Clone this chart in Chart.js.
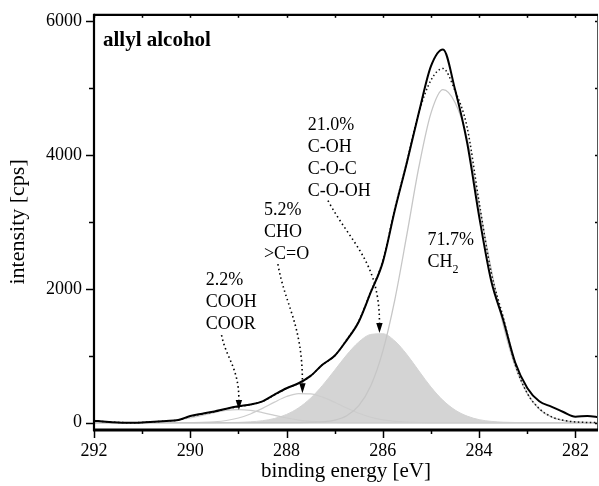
<!DOCTYPE html>
<html lang="en">
<head>
    <meta charset="UTF-8">
    <title>allyl alcohol C 1s</title>
    <style>
        body {
            margin: 0;
            background: #fff;
        }
        #chart {
            display: block;
        }
    </style>
</head>
<body>
    <canvas id="chart" width="599" height="486"></canvas>

    <script src="https://cdn.jsdelivr.net/npm/chart.js@4.4.0/dist/chart.umd.js"></script>
    <script>
        // binding energy grid (eV), every 0.25 eV
        const energy = [292, 291.75, 291.5, 291.25, 291, 290.75, 290.5, 290.25, 290, 289.75,
            289.5, 289.25, 289, 288.75, 288.5, 288.25, 288, 287.75, 287.5, 287.25,
            287, 286.75, 286.5, 286.25, 286, 285.75, 285.5, 285.25, 285, 284.75,
            284.5, 284.25, 284, 283.75, 283.5, 283.25, 283, 282.75, 282.5, 282.25,
            282, 281.75, 281.5];

        // measured spectrum (cps)
        const measured = [30, 15, 5, 0, 5, 15, 25, 40, 100, 135,
            168, 210, 245, 272, 320, 420, 515, 590, 700, 870,
            1000, 1235, 1510, 1950, 2400, 3180, 3890, 4640, 5330, 5580,
            4980, 4190, 3090, 2125, 1540, 900, 520, 320, 240, 160,
            90, 100, 80];

        // fit envelope (dotted)
        const envelope = [30, 15, 5, 0, 5, 15, 25, 40, 95, 130,
            165, 205, 240, 270, 318, 418, 512, 588, 700, 870,
            1000, 1240, 1520, 1960, 2420, 3200, 3900, 4640, 5120, 5295,
            4960, 4420, 3300, 2250, 1580, 870, 440, 210, 90, 35,
            12, 4, 1];

        // fitted components
        const peakCH2 = [0, 0, 0, 0, 0, 0, 0, 0, 0, 0,
            0, 0, 0, 0, 0, 0, 0, 1, 4, 12,
            38, 104, 255, 553, 1071, 1841, 2814, 3826, 4627, 4978,
            4786, 4250, 3252, 2299, 1465, 842, 438, 205, 87, 33,
            12, 4, 1];
        const peakCOH = [0, 0, 0, 0, 0, 0, 0, 0, 0, 0,
            0, 2, 5, 13, 30, 63, 124, 222, 367, 560,
            785, 1014, 1206, 1320, 1330, 1221, 1019, 773, 533, 334,
            190, 99, 46, 20, 8, 3, 1, 0, 0, 0,
            0, 0, 0];
        const peakCHO = [0, 0, 0, 0, 0, 0, 0, 0, 2, 5,
            14, 33, 70, 131, 214, 308, 391, 436, 431, 382,
            305, 219, 141, 82, 43, 20, 9, 3, 1, 0,
            0, 0, 0, 0, 0, 0, 0, 0, 0, 0,
            0, 0, 0];
        const peakCOOH = [0, 0, 0, 1, 3, 9, 20, 40, 70, 110,
            151, 183, 195, 183, 151, 110, 70, 40, 20, 9,
            3, 1, 0, 0, 0, 0, 0, 0, 0, 0,
            0, 0, 0, 0, 0, 0, 0, 0, 0, 0,
            0, 0, 0];
        const baseline = energy.map(() => 0);

        // tick labels and tick marks
        const energyLabels = [282, 284, 286, 288, 290, 292];
        const intensityLabels = [0, 2000, 4000, 6000];
        const energyTicks = [292, 291, 290, 289, 288, 287, 286, 285, 284, 283, 282];
        const intensityTicks = [0, 1000, 2000, 3000, 4000, 5000, 6000];

        // peak labels: text lines, label anchor, arrow start and arrow tip (eV, cps)
        const notes = [
            { lines: ['2.2%', 'COOH', 'COOR'], at: [289.68, 2130], from: [289.35, 1310], to: [288.99, 190], bend: 0.25 },
            { lines: ['5.2%', 'CHO', '>C=O'], at: [288.47, 3180], from: [288.18, 2370], to: [287.67, 440], bend: 0.3 },
            { lines: ['21.0%', 'C-OH', 'C-O-C', 'C-O-OH'], at: [287.56, 4450], from: [287.14, 3320], to: [286.07, 1340], bend: 0.45 },
            { lines: ['71.7%', 'CH'], sub: '2', at: [285.07, 2730] }
        ];

        const serif = 'Liberation Serif';

        function pts(values) {
            return energy.map((e, i) => ({ x: e, y: values[i] }));
        }

        function line(ctx, x1, y1, x2, y2) {
            ctx.beginPath();
            ctx.moveTo(x1, y1);
            ctx.lineTo(x2, y2);
            ctx.stroke();
        }

        // axis frame with in/out ticks like the original plot
        const frame = {
            id: 'frame',
            afterDatasetsDraw(chart) {
                const { ctx, chartArea: a, scales: { x, y } } = chart;
                ctx.save();
                ctx.strokeStyle = '#000';
                ctx.lineWidth = 1.5;
                energyTicks.forEach(e => {
                    const px = Math.round(x.getPixelForValue(e)) + 0.5;
                    const major = e % 2 === 0;
                    line(ctx, px, a.bottom, px, a.bottom + (major ? 9 : 5));
                    line(ctx, px, a.top, px, a.top + 3);
                });
                intensityTicks.forEach(v => {
                    const py = Math.round(y.getPixelForValue(v)) + 0.5;
                    const major = v % 2000 === 0;
                    line(ctx, a.left, py, a.left - (major ? 8 : 5), py);
                    line(ctx, a.right, py, a.right - 3, py);
                });

                ctx.strokeStyle = '#555';
                ctx.lineWidth = 1;
                line(ctx, a.right - 0.5, a.top, a.right - 0.5, a.bottom);
                ctx.strokeStyle = '#000';
                ctx.lineWidth = 2.2;
                line(ctx, a.left, a.top, a.right, a.top);
                line(ctx, a.left, a.top - 1, a.left, a.bottom + 2);
                ctx.lineWidth = 3;
                line(ctx, a.left - 1, a.bottom + 1, a.right, a.bottom + 1);
                ctx.restore();
            }
        };

        function drawArrow(ctx, sx, sy, tx, ty, bend) {
            const head = 10;
            const ey = ty - head;
            const dx = tx - sx, dy = ey - sy;
            ctx.setLineDash([1.5, 3]);
            ctx.lineWidth = 1.6;
            ctx.beginPath();
            ctx.moveTo(sx, sy);
            ctx.bezierCurveTo(sx + dx * bend, sy + dy * 0.35, tx, ey - dy * 0.5, tx, ey);
            ctx.stroke();
            ctx.setLineDash([]);
            ctx.beginPath();
            ctx.moveTo(tx - 3.2, ey);
            ctx.lineTo(tx + 3.2, ey);
            ctx.lineTo(tx, ty);
            ctx.closePath();
            ctx.fill();
        }

        // text labels and dotted arrows
        const labels = {
            id: 'labels',
            afterDatasetsDraw(chart) {
                const { ctx, chartArea: a, scales: { x, y } } = chart;
                ctx.save();
                ctx.fillStyle = '#000';
                ctx.strokeStyle = '#000';
                ctx.textBaseline = 'middle';
                ctx.textAlign = 'left';

                ctx.font = `bold 21px "${serif}"`;
                ctx.fillText('allyl alcohol', a.left + 9, a.top + 26);

                notes.forEach(n => {
                    const lx = x.getPixelForValue(n.at[0]);
                    const ly = y.getPixelForValue(n.at[1]);
                    ctx.font = `18px "${serif}"`;
                    n.lines.forEach((t, i) => ctx.fillText(t, lx, ly + i * 22));
                    if (n.sub) {
                        const last = n.lines.length - 1;
                        const w = ctx.measureText(n.lines[last]).width;
                        ctx.font = `12px "${serif}"`;
                        ctx.fillText(n.sub, lx + w, ly + last * 22 + 8);
                    }
                    if (n.from) {
                        drawArrow(ctx,
                            x.getPixelForValue(n.from[0]), y.getPixelForValue(n.from[1]),
                            x.getPixelForValue(n.to[0]), y.getPixelForValue(n.to[1]), n.bend);
                    }
                });
                ctx.restore();
            }
        };

        const lineBase = {
            pointRadius: 0,
            fill: false,
            cubicInterpolationMode: 'monotone'
        };

        new Chart(document.getElementById('chart'), {
            type: 'line',
            data: {
                datasets: [
                    { ...lineBase, label: 'measured', data: pts(measured), borderColor: '#000', borderWidth: 2 },
                    { ...lineBase, label: 'fit', data: pts(envelope), borderColor: '#111', borderWidth: 1.5, borderDash: [1.5, 2.5] },
                    { ...lineBase, label: 'CH2', data: pts(peakCH2), borderColor: '#c6c6c6', borderWidth: 1.3 },
                    { ...lineBase, label: 'CHO', data: pts(peakCHO), borderColor: '#cdcdcd', borderWidth: 1.2 },
                    { ...lineBase, label: 'COOH', data: pts(peakCOOH), borderColor: '#cdcdcd', borderWidth: 1.2 },
                    { ...lineBase, label: 'C-OH', data: pts(peakCOH), borderColor: '#d4d4d4', backgroundColor: '#d4d4d4', borderWidth: 1, fill: 'origin' },
                    { ...lineBase, label: 'baseline', data: pts(baseline), borderColor: '#bdbdbd', borderWidth: 1.5 }
                ]
            },
            options: {
                responsive: false,
                animation: false,
                devicePixelRatio: 1,
                layout: { padding: { top: 13, right: 1, left: 0, bottom: 0 } },
                plugins: {
                    legend: { display: false },
                    tooltip: { enabled: false }
                },
                scales: {
                    x: {
                        type: 'linear',
                        reverse: true,
                        min: 281.53,
                        max: 292,
                        border: { display: false },
                        grid: { display: false, drawTicks: true, tickLength: 8 },
                        ticks: {
                            autoSkip: false,
                            maxRotation: 0,
                            padding: 3,
                            color: '#000',
                            font: { family: serif, size: 18 },
                            callback: v => String(v)
                        },
                        afterBuildTicks: s => { s.ticks = energyLabels.map(v => ({ value: v })); },
                        title: {
                            display: true,
                            text: 'binding energy [eV]',
                            color: '#000',
                            font: { family: serif, size: 21, lineHeight: 1.2 },
                            padding: { top: 0, bottom: 2 }
                        },
                        afterFit: s => { s.height = 57; }
                    },
                    y: {
                        min: -94,
                        max: 6097,
                        border: { display: false },
                        grid: { display: false, drawTicks: true, tickLength: 8 },
                        ticks: {
                            autoSkip: false,
                            padding: 4,
                            color: '#000',
                            font: { family: serif, size: 18 },
                            callback: v => String(v)
                        },
                        afterBuildTicks: s => { s.ticks = intensityLabels.map(v => ({ value: v })); },
                        title: {
                            display: true,
                            text: 'intensity [cps]',
                            color: '#000',
                            font: { family: serif, size: 22, lineHeight: 1.2 },
                            padding: { top: 5, bottom: 0 }
                        },
                        afterFit: s => { s.width = 94; }
                    }
                }
            },
            plugins: [frame, labels]
        });
    </script>
</body>
</html>
